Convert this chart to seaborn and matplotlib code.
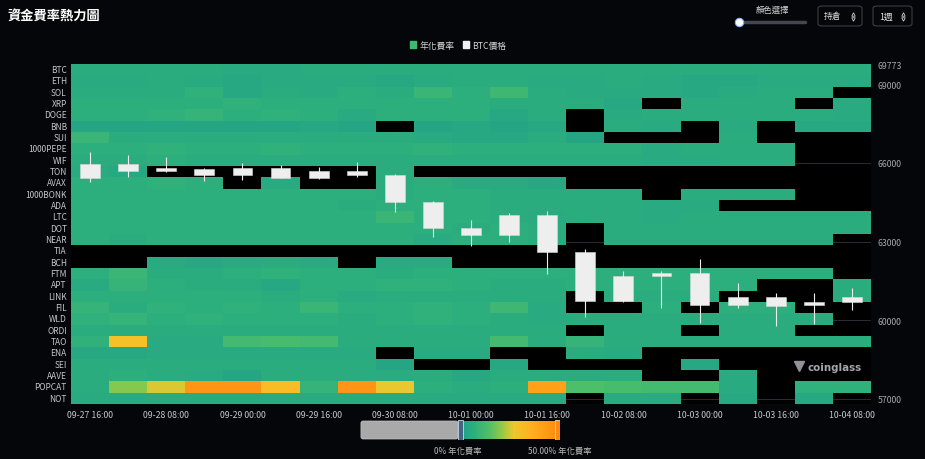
"""
資金費率熱力圖 - 重繪
"""
import numpy as np
import pandas as pd
import matplotlib
matplotlib.use("Agg")
import matplotlib.pyplot as plt
import seaborn as sns
from matplotlib.colors import LinearSegmentedColormap
from matplotlib.patches import Patch, FancyBboxPatch, Rectangle
from matplotlib.lines import Line2D

N = None

coins = ["BTC", "ETH", "SOL", "XRP", "DOGE", "BNB", "SUI", "1000PEPE", "WIF", "TON",
         "AVAX", "1000BONK", "ADA", "LTC", "DOT", "NEAR", "TIA", "BCH", "FTM", "APT",
         "LINK", "FIL", "WLD", "ORDI", "TAO", "ENA", "SEI", "AAVE", "POPCAT", "NOT"]

time_labels = ["09-27 16:00", "09-28 00:00", "09-28 08:00", "09-28 16:00", "09-29 00:00",
               "09-29 08:00", "09-29 16:00", "09-30 00:00", "09-30 08:00", "09-30 16:00",
               "10-01 00:00", "10-01 08:00", "10-01 16:00", "10-02 00:00", "10-02 08:00",
               "10-02 16:00", "10-03 00:00", "10-03 08:00", "10-03 16:00", "10-04 00:00",
               "10-04 08:00"]

# 年化費率 (%) ，None = 無資料
btc = [6, 6, 6, 6, 5, 5, 6, 6, 6, 6, 6, 6, 6, 6, 6, 6, 6, 6, 6, 6, 6]
eth = [5, 5, 6, 5, 4, 5, 5, 5, 4, 5, 6, 6, 5, 5, 6, 5, 4, 4, 5, 5, 5]
sol = [6, 6, 6, 8, 4, 6, 5, 7, 6, 10, 7, 11, 6, 5, 5, 5, 4, 5, 6, 6, N]
xrp = [7, 7, 7, 7, 8, 7, 7, 7, 7, 7, 7, 6, 6, 6, 4, N, 6, 6, 6, N, 5]
doge = [7, 7, 8, 9, 7, 8, 7, 5, 7, 7, 7, 4, 6, N, 5, 6, 6, 6, 6, 6, 5]
bnb = [3, 3, 3, 3, 3, 3, 4, 3, N, 3, 4, 3, 4, N, 6, 5, N, 5, N, 4, 4]
sui = [10, 6, 6, 6, 6, 6, 6, 6, 6, 5, 4, 4, 6, 3, N, N, N, 6, N, N, N]
pepe = [7, 7, 8, 7, 7, 8, 7, 7, 7, 8, 7, 7, 7, 7, 7, 5, 6, 6, 6, N, N]
wif = [6, 6, 7, 6, 6, 6, 6, 6, 6, 6, 6, 6, 6, 6, 6, 5, 5, 6, 6, N, N]
ton = [5, 4, N, N, N, N, N, N, 6, N, N, N, N, N, N, N, N, N, N, N, N]
avax = [7, 7, 8, 7, N, 5, N, N, 6, 7, 5, 5, 4, N, N, N, N, N, N, N, N]
bonk = [7, 7, 7, 7, 7, 7, 7, 7, 6, 7, 7, 6, 6, 6, 6, N, 6, 6, 6, N, N]
ada = [7, 7, 7, 7, 7, 7, 7, 6, 7, 7, 7, 6, 6, 6, 6, 5, 5, N, N, N, N]
ltc = [7, 7, 7, 7, 7, 7, 7, 7, 10, 7, 7, 6, 5, 6, 6, 5, 6, 6, 6, 6, 6]
dot = [7, 7, 7, 7, 7, 7, 7, 7, 7, 7, 6, 7, 6, N, 6, 6, 6, 6, 6, 6, 6]
near = [7, 6, 7, 7, 7, 7, 7, 7, 7, 5, 7, 7, 6, N, 6, 6, 6, 6, 6, 6, N]
tia = [N, N, N, N, N, N, N, N, N, N, N, N, N, N, N, N, N, N, N, N, N]
bch = [N, N, 5, 4, 5, 6, 5, N, 5, 5, N, N, N, N, N, N, N, N, N, N, N]
ftm = [7, 10, 6, 6, 7, 8, 7, 7, 6, 7, 7, 7, 7, 7, 7, 7, 7, 7, 7, 7, N]
apt = [5, 9, 7, 6, 6, 4, 7, 7, 8, 8, 7, 6, 6, 7, 7, 7, 7, 7, N, N, 6]
link = [7, 7, 7, 7, 7, 6, 7, 5, 6, 6, 6, 6, 6, N, 6, 6, 6, N, N, N, 6]
fil = [9, 6, 8, 7, 8, 7, 10, 7, 7, 8, 7, 11, 5, N, N, 7, N, 7, 7, N, N]
wld = [8, 9, 7, 8, 7, 7, 7, 6, 7, 8, 7, 6, 5, 6, 6, 6, 6, 6, 6, 6, N]
ordi = [6, 6, 6, 6, 6, 6, 6, 6, 6, 6, 6, 6, 6, N, 6, 6, N, 6, 6, N, N]
tao = [8, 30, 5, 5, 12, 13, 12, 6, 6, 6, 6, 12, 6, 9, 6, 6, 6, 6, 6, 6, 6]
ena = [4, 4, 5, 5, 5, 5, 5, 5, N, 5, 5, N, N, 6, 5, N, N, N, N, N, N]
sei = [6, 6, 6, 6, 6, 6, 6, 6, 3, N, N, 4, N, N, N, N, 4, N, N, N, N]
aave = [6, 7, 6, 5, 3, 6, 6, 6, 6, 6, 4, 6, 6, 6, 6, N, N, 5, N, N, N]
popcat = [6, 20, 26, 46, 46, 32, 9, 46, 27, 7, 6, 7, 42, 14, 13, 12, 12, 5, N, 8, 8]
notcoin = [5, 5, 5, 5, 5, 5, 5, 5, 5, 5, 5, 5, 5, N, 5, 5, N, 4, N, 4, N]

rate_rows = [btc, eth, sol, xrp, doge, bnb, sui, pepe, wif, ton, avax, bonk, ada, ltc,
             dot, near, tia, bch, ftm, apt, link, fil, wld, ordi, tao, ena, sei, aave,
             popcat, notcoin]

# BTC 8小時K線
btc_open = [65950, 65950, 65786, 65760, 65798, 65798, 65695, 65695, 65543, 64513, 63510,
            63255, 64006, 62584, 60739, 61669, 61795, 60869, 60549, 60701, 60701]
btc_close = [65405, 65695, 65695, 65543, 65543, 65405, 65405, 65531, 64490, 63499, 63255,
             64006, 62596, 60739, 61669, 61795, 60575, 60575, 60869, 60575, 60869]
btc_high = [66419, 66294, 66217, 65798, 65977, 65912, 65825, 66038, 65569, 64540, 63816,
            64082, 64159, 62710, 61860, 61860, 62329, 61414, 61022, 61033, 61224]
btc_low = [65253, 65455, 65657, 65314, 65352, 65405, 65380, 65443, 64109, 63156, 62836,
           62977, 61757, 60107, 60701, 60449, 59889, 60461, 59787, 59851, 60396]

price_ticks = [57000, 60000, 63000, 66000, 69000, 69773]

BG = "#05060a"
TXT = "#c4c6ca"

sns.set_style("dark")
plt.rcParams["font.family"] = ["Noto Sans CJK TC", "DejaVu Sans"]

cmap = LinearSegmentedColormap.from_list(
    "funding", [(0.0, "#1f9e89"), (0.15, "#2eb07c"), (0.3, "#52c067"), (0.42, "#8fc94b"),
                (0.55, "#efc72d"), (0.72, "#ffb21f"), (1.0, "#ff8a12")])

fig = plt.figure(figsize=(9.25, 4.6), dpi=100, facecolor=BG)
rect = [71 / 925, 1 - 405 / 460, 800 / 925, 340 / 460]

# 底層: 價格刻度與網格
ax_price = fig.add_axes(rect, zorder=0)
ax_price.set_facecolor("#000000")
ax_price.set_xlim(0, len(time_labels))
ax_price.set_ylim(56800, 69773)
ax_price.yaxis.tick_right()
ax_price.set_yticks(price_ticks)
ax_price.set_yticklabels([str(t) for t in price_ticks])
ax_price.tick_params(axis="y", length=0, labelsize=6.3, labelcolor="#a4a6aa", pad=5)
ax_price.set_xticks([])
ax_price.grid(False)
for t in price_ticks:
    ax_price.axhline(t, color="#2a2d34", lw=0.7)
for s in ax_price.spines.values():
    s.set_visible(False)

# 熱力圖
df = pd.DataFrame(rate_rows, index=coins, columns=time_labels, dtype=float)
ax_hm = fig.add_axes(rect, zorder=1)
ax_hm.set_facecolor("none")
sns.heatmap(df, ax=ax_hm, cmap=cmap, vmin=0, vmax=50, cbar=False, linewidths=0,
            xticklabels=2, yticklabels=True)
ax_hm.set_xlabel("")
ax_hm.set_ylabel("")
ax_hm.tick_params(axis="both", length=0, labelcolor=TXT)
ax_hm.tick_params(axis="y", pad=3, labelrotation=0, labelsize=6.0)
ax_hm.tick_params(axis="x", pad=4, labelrotation=0, labelsize=6.3)

# K線
ax_c = fig.add_axes(rect, zorder=2)
ax_c.set_facecolor("none")
ax_c.set_xlim(0, len(time_labels))
ax_c.set_ylim(56800, 69773)
ax_c.axis("off")
xs = np.arange(len(btc_open)) + 0.5
o = np.array(btc_open)
c = np.array(btc_close)
ax_c.vlines(xs, btc_low, btc_high, color="#eeeeee", lw=0.8)
ax_c.bar(xs, np.abs(c - o), bottom=np.minimum(o, c), width=0.52, color="#eeeeee",
         edgecolor="#d8d8d8", linewidth=0.4)

# 標題與圖例
fig.text(7 / 925, 1 - 17 / 460, "資金費率熱力圖", fontsize=9.5, fontweight="bold",
         color="white", va="center")
fig.legend(handles=[Patch(color="#3fba72", label="年化費率"),
                    Patch(color="#f0f0f0", label="BTC價格")],
           loc="center", bbox_to_anchor=(458 / 925, 1 - 46 / 460), ncol=2, frameon=False,
           fontsize=6.3, labelcolor="#d4d4d4", handlelength=0.7, handleheight=0.7,
           columnspacing=1.0, handletextpad=0.4)

# 右上控制項
fig.text(772 / 925, 1 - 10 / 460, "顏色選擇", fontsize=6, color="#cfcfcf",
         ha="center", va="center")
fig.add_artist(Line2D([739 / 925, 805 / 925], [1 - 23 / 460] * 2, color="#44474f",
                      lw=2.5, solid_capstyle="round", transform=fig.transFigure))
fig.add_artist(Line2D([739 / 925], [1 - 23 / 460], marker="o", markersize=6,
                      color="white", markeredgecolor="#7fb2ff", markeredgewidth=0.8,
                      transform=fig.transFigure))
for x0, w, label in [(818, 44, "持倉"), (873, 39, "1週")]:
    fig.add_artist(FancyBboxPatch((x0 / 925, 1 - 27 / 460), w / 925, 20 / 460,
                                  boxstyle="round,pad=0,rounding_size=0.005",
                                  transform=fig.transFigure, fc="none", ec="#3a3d45",
                                  lw=0.8))
    fig.text((x0 + 6) / 925, 1 - 17 / 460, label, fontsize=6.3, color="#e6e6e6",
             va="center")
    cx = (x0 + w - 9) / 925
    fig.add_artist(Line2D([cx], [1 - 14.5 / 460], marker="^", markersize=2.5,
                          color="#cfcfcf", mfc="none", mew=0.6, transform=fig.transFigure))
    fig.add_artist(Line2D([cx], [1 - 19.5 / 460], marker="v", markersize=2.5,
                          color="#cfcfcf", mfc="none", mew=0.6, transform=fig.transFigure))

# 底部顏色範圍
ax_vm = fig.add_axes([359 / 925, 1 - 441 / 460, 201 / 925, 20 / 460], zorder=3)
ax_vm.add_patch(FancyBboxPatch((-51, 0.05), 50, 0.9,
                               boxstyle="round,pad=0,rounding_size=1.2",
                               mutation_aspect=0.08, fc="#a9a9a9", ec="#c8c8c8", lw=0.5))
ax_vm.imshow(np.linspace(0, 1, 256)[None, :], cmap=cmap, aspect="auto",
             extent=(0, 50, 0.05, 0.95))
ax_vm.set_xlim(-52, 51.5)
ax_vm.set_ylim(0, 1)
ax_vm.axis("off")
ax_vm.add_patch(Rectangle((-1.2, 0.0), 2.6, 1.0, fc="#3f6587", ec="#cfd8e2", lw=0.6))
ax_vm.add_patch(Rectangle((48.8, 0.0), 2.6, 1.0, fc="#ff8a13", ec="#ffd3a8", lw=0.6))
fig.text(458 / 925, 1 - 452 / 460, "0% 年化費率", fontsize=6, color="#b8b8b8",
         ha="center", va="center")
fig.text(560 / 925, 1 - 452 / 460, "50.00% 年化費率", fontsize=6, color="#b8b8b8",
         ha="center", va="center")

# 浮水印
fig.add_artist(Line2D([799 / 925], [1 - 367 / 460], marker="v", markersize=7,
                      color="#8f9297", transform=fig.transFigure, zorder=5))
fig.text(807 / 925, 1 - 368 / 460, "coinglass", fontsize=7.4, color="#a3a6ab",
         ha="left", va="center", fontweight="bold", family="DejaVu Sans")

fig.savefig("out.png", dpi=100, facecolor=BG)
